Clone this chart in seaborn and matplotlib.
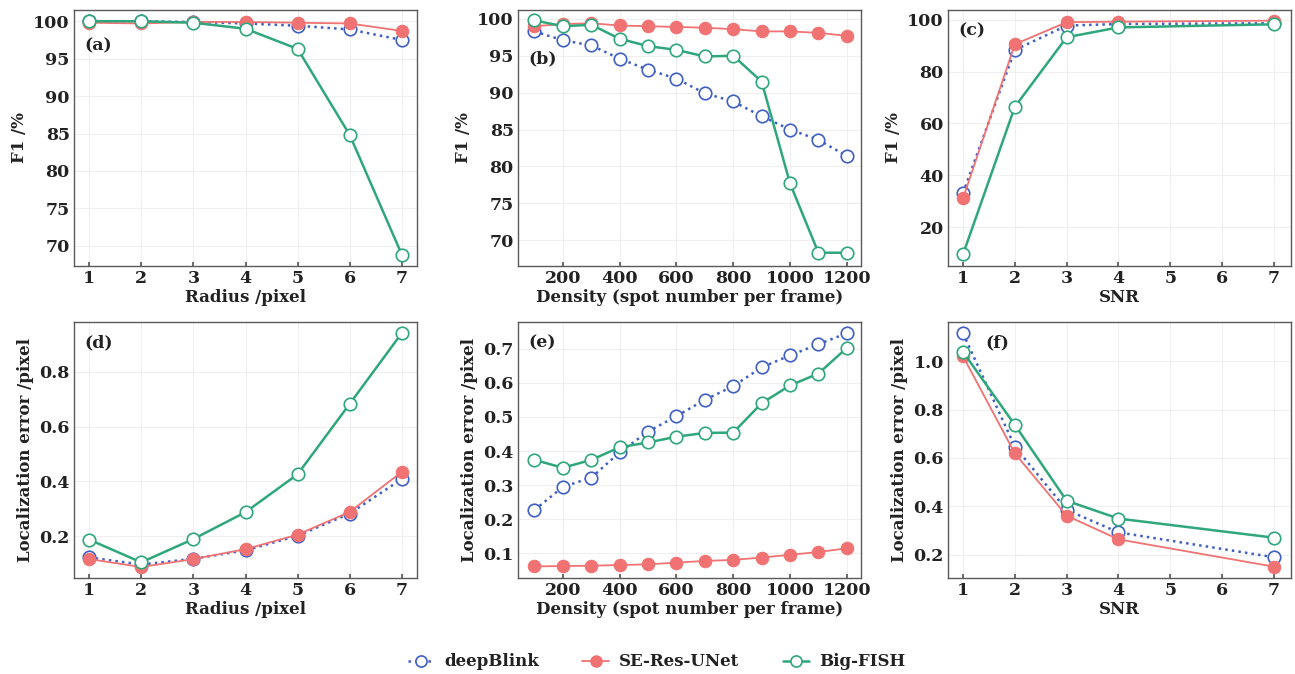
import numpy as np
import pandas as pd
import matplotlib
matplotlib.use("Agg")
import matplotlib.pyplot as plt
import seaborn as sns
from matplotlib.lines import Line2D

# ---- data ----
radius = [1, 2, 3, 4, 5, 6, 7]
density = [100, 200, 300, 400, 500, 600, 700, 800, 900, 1000, 1100, 1200]
snr = [1, 2, 3, 4, 7]

f1_radius_deepblink = [100.0, 100.0, 99.9, 99.7, 99.4, 98.9, 97.5]
f1_radius_seres = [99.8, 99.7, 99.9, 99.9, 99.8, 99.7, 98.7]
f1_radius_bigfish = [100.0, 100.0, 99.8, 99.0, 96.3, 84.8, 68.8]

f1_density_deepblink = [98.3, 97.1, 96.4, 94.6, 93.1, 91.9, 89.9, 88.8, 86.8, 85.0, 83.6, 81.4]
f1_density_seres = [99.0, 99.3, 99.4, 99.1, 99.0, 98.9, 98.8, 98.6, 98.3, 98.3, 98.1, 97.7]
f1_density_bigfish = [99.8, 99.0, 99.2, 97.3, 96.3, 95.8, 94.9, 95.0, 91.5, 77.7, 68.3, 68.3]

f1_snr_deepblink = [33.2, 88.3, 97.7, 98.3, 98.6]
f1_snr_seres = [31.1, 90.5, 99.0, 99.2, 99.6]
f1_snr_bigfish = [9.6, 66.4, 93.2, 97.0, 98.2]

le_radius_deepblink = [0.123, 0.097, 0.118, 0.149, 0.202, 0.283, 0.409]
le_radius_seres = [0.117, 0.088, 0.117, 0.153, 0.206, 0.289, 0.435]
le_radius_bigfish = [0.188, 0.105, 0.190, 0.288, 0.426, 0.683, 0.941]

le_density_deepblink = [0.227, 0.295, 0.322, 0.396, 0.457, 0.502, 0.550, 0.590, 0.645, 0.680, 0.713, 0.745]
le_density_seres = [0.062, 0.063, 0.064, 0.066, 0.068, 0.073, 0.078, 0.081, 0.088, 0.096, 0.104, 0.115]
le_density_bigfish = [0.374, 0.351, 0.374, 0.411, 0.425, 0.442, 0.453, 0.454, 0.540, 0.592, 0.627, 0.702]

le_snr_deepblink = [1.116, 0.647, 0.385, 0.292, 0.189]
le_snr_seres = [1.021, 0.619, 0.361, 0.263, 0.150]
le_snr_bigfish = [1.039, 0.737, 0.423, 0.349, 0.270]

methods = ["deepBlink", "SE-Res-UNet", "Big-FISH"]

sns.set_theme(style="whitegrid")
plt.rcParams.update({
    "font.family": ["DejaVu Serif"],
    "font.weight": "bold",
    "axes.labelweight": "bold",
    "font.size": 12,
    "axes.edgecolor": "#5a5a5a",
    "axes.linewidth": 1.0,
    "grid.color": "#efefef",
    "grid.linewidth": 0.8,
    "xtick.bottom": True,
    "xtick.direction": "in",
    "xtick.major.size": 3,
    "xtick.color": "#5a5a5a",
    "xtick.labelcolor": "#222222",
    "ytick.labelcolor": "#222222",
    "axes.labelcolor": "#222222",
    "text.color": "#222222",
})

BLUE = "#3f5fc4"
RED = "#f07272"
GREEN = "#2fa77b"

styles = {
    "deepBlink": dict(color=BLUE, linestyle=":", linewidth=1.8, marker="o",
                      markersize=9, markerfacecolor="white", markeredgecolor=BLUE, markeredgewidth=1.2),
    "SE-Res-UNet": dict(color=RED, linestyle="-", linewidth=1.3, marker="o",
                        markersize=9, markerfacecolor=RED, markeredgecolor=RED),
    "Big-FISH": dict(color=GREEN, linestyle="-", linewidth=1.8, marker="o",
                     markersize=9, markerfacecolor="white", markeredgecolor=GREEN, markeredgewidth=1.2),
}

fig = plt.figure(figsize=(12.95, 6.74), dpi=100)

W, H = 1295, 674
lefts = [74, 518, 948]
width = 343
tops = [10, 322]
height = 256


def make_ax(col, row):
    l = lefts[col] / W
    b = (H - tops[row] - height) / H
    return fig.add_axes([l, b, width / W, height / H])


panels = [
    (0, 0, radius, [f1_radius_deepblink, f1_radius_seres, f1_radius_bigfish],
     "Radius /pixel", "F1 /%", "(a)", (0.03, 0.86), (0.71, 7.29), (67.3, 101.5), radius, [70, 75, 80, 85, 90, 95, 100]),
    (1, 0, density, [f1_density_deepblink, f1_density_seres, f1_density_bigfish],
     "Density (spot number per frame)", "F1 /%", "(b)", (0.03, 0.81), (42, 1250), (66.5, 101.2),
     [200, 400, 600, 800, 1000, 1200], [70, 75, 80, 85, 90, 95, 100]),
    (2, 0, snr, [f1_snr_deepblink, f1_snr_seres, f1_snr_bigfish],
     "SNR", "F1 /%", "(c)", (0.03, 0.92), (0.71, 7.33), (5.1, 103.7), [1, 2, 3, 4, 5, 6, 7], [20, 40, 60, 80, 100]),
    (0, 1, radius, [le_radius_deepblink, le_radius_seres, le_radius_bigfish],
     "Radius /pixel", "Localization error /pixel", "(d)", (0.03, 0.92), (0.71, 7.29), (0.048, 0.981), radius, [0.2, 0.4, 0.6, 0.8]),
    (1, 1, density, [le_density_deepblink, le_density_seres, le_density_bigfish],
     "Density (spot number per frame)", "Localization error /pixel", "(e)", (0.03, 0.92), (42, 1250), (0.028, 0.778),
     [200, 400, 600, 800, 1000, 1200], [0.1, 0.2, 0.3, 0.4, 0.5, 0.6, 0.7]),
    (2, 1, snr, [le_snr_deepblink, le_snr_seres, le_snr_bigfish],
     "SNR", "Localization error /pixel", "(f)", (0.11, 0.92), (0.71, 7.33), (0.103, 1.163), [1, 2, 3, 4, 5, 6, 7], [0.2, 0.4, 0.6, 0.8, 1.0]),
]

for col, row, xs, series, xlabel, ylabel, tag, tagpos, xlim, ylim, xt, yt in panels:
    ax = make_ax(col, row)
    for name, ys in zip(methods, series):
        sns.lineplot(x=xs, y=ys, ax=ax, **styles[name])
    ax.set_xlim(*xlim)
    ax.set_ylim(*ylim)
    ax.set_xticks(xt)
    ax.set_yticks(yt)
    if row == 1 and col != 1:
        ax.set_yticklabels([f"{v:.1f}" for v in yt])
    ax.set_xlabel(xlabel, fontsize=12, labelpad=1)
    ax.set_ylabel(ylabel, fontsize=12, labelpad=4)
    ax.tick_params(axis="both", labelsize=12.5, pad=3)
    ax.tick_params(axis="y", length=0)
    ax.text(tagpos[0], tagpos[1], tag, transform=ax.transAxes, fontsize=12.5, va="center", ha="left")
    for s in ax.spines.values():
        s.set_visible(True)

handles = [Line2D([0], [0], **{**styles[m], "markersize": 8}) for m in methods]
fig.legend(handles, methods, loc="center", bbox_to_anchor=(0.507, 0.018), ncol=3,
           frameon=False, fontsize=12, handlelength=1.6, columnspacing=2.6, handletextpad=0.6)

fig.savefig("out.png", dpi=100)
